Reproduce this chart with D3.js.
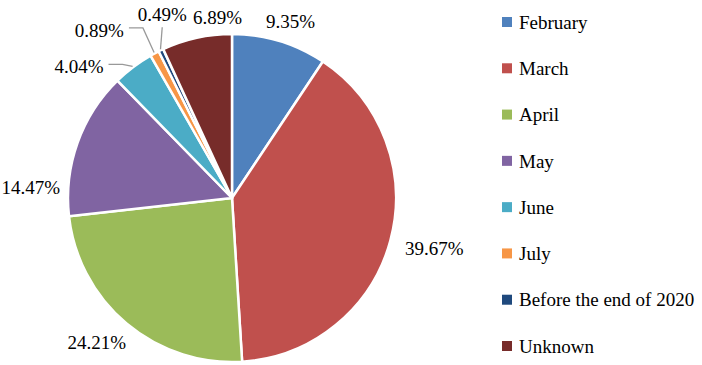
<!DOCTYPE html>
<html>
<head>
<meta charset="utf-8">
<script src="https://cdn.jsdelivr.net/npm/d3@7"></script>
<style>
  body { margin: 0; background: #fff; }
  svg text { fill: #000; }
</style>
</head>
<body>
<div id="pie-container"></div>
<script>
// data
const categories = ["February", "March", "April", "May", "June", "July", "Before the end of 2020", "Unknown"];
const shares = [9.35, 39.67, 24.21, 14.47, 4.04, 0.89, 0.49, 6.89];
const colors = ["#4f81bd", "#c0504d", "#9bbb59", "#8064a2", "#4bacc6", "#f79646", "#1f497d", "#772c2a"];

/** CONSTANTS */
const width = 702;
const height = 365;
const cx = 232, cy = 198, radius = 164;
const labelGap = 14;
const fontSize = 19;
const fontFamily = "'Liberation Serif', 'DejaVu Serif', 'Times New Roman', serif";
// manual label shifts (Excel moved some labels around), plus leader style
const labelShift = [[0, 0], [2, 2], [-2, 3], [-6, 52], [-31, 16], [-37, -5], [18, -17], [29, 0]];
const leaderType = [null, null, null, null, "side", "side", "below", null];

const svg = d3.select("#pie-container")
  .append("svg")
  .attr("width", width)
  .attr("height", height)
  .attr("font-family", fontFamily);

const pie = d3.pie().sort(null).value(d => d)(shares);
const arc = d3.arc().innerRadius(0).outerRadius(radius);

const g = svg.append("g").attr("transform", `translate(${cx},${cy})`);

// slices
g.selectAll("path.slice")
  .data(pie)
  .join("path")
  .attr("class", "slice")
  .attr("d", arc)
  .attr("fill", (d, i) => colors[i])
  .attr("stroke", "#fff")
  .attr("stroke-width", 2.5)
  .attr("stroke-linejoin", "round");

// labels
const labels = g.selectAll("text.pct")
  .data(pie)
  .join("text")
  .attr("class", "pct")
  .attr("font-size", fontSize)
  .attr("text-anchor", "middle")
  .attr("dy", "0.35em")
  .text(d => d3.format(".2f")(d.value) + "%");

labels.each(function(d, i) {
  const w = this.getComputedTextLength();
  const h = 14;
  const a = (d.startAngle + d.endAngle) / 2;
  const px = Math.sin(a) * (radius + labelGap);
  const py = -Math.cos(a) * (radius + labelGap);
  const x = px + Math.sin(a) * w / 2 + labelShift[i][0];
  const y = py - Math.cos(a) * h / 2 + labelShift[i][1];
  d3.select(this).attr("x", x).attr("y", y);

  // leader lines for the thin slices
  const ex = Math.sin(a) * (radius + 1);
  const ey = -Math.cos(a) * (radius + 1);
  let pts = null;
  if (leaderType[i] === "side") {
    const sx = x + w / 2 + 5;
    const sy = y - 2;
    pts = [[sx, sy], [sx + 14, sy], [ex, ey]];
  } else if (leaderType[i] === "below") {
    pts = [[x, y + 13], [ex, ey]];
  }
  if (pts) {
    g.append("path")
      .attr("d", d3.line()(pts))
      .attr("fill", "none")
      .attr("stroke", "#999")
      .attr("stroke-width", 1.3);
  }
});

// legend
const legendY = d3.scalePoint()
  .domain(categories)
  .range([22, 346]);

const legend = svg.selectAll("g.legend")
  .data(categories)
  .join("g")
  .attr("class", "legend")
  .attr("transform", d => `translate(502,${legendY(d)})`);

legend.append("rect")
  .attr("x", 0)
  .attr("y", -5)
  .attr("width", 10)
  .attr("height", 10)
  .attr("fill", (d, i) => colors[i]);

legend.append("text")
  .attr("x", 17)
  .attr("dy", "0.35em")
  .attr("font-size", fontSize)
  .text(d => d);
</script>
</body>
</html>
